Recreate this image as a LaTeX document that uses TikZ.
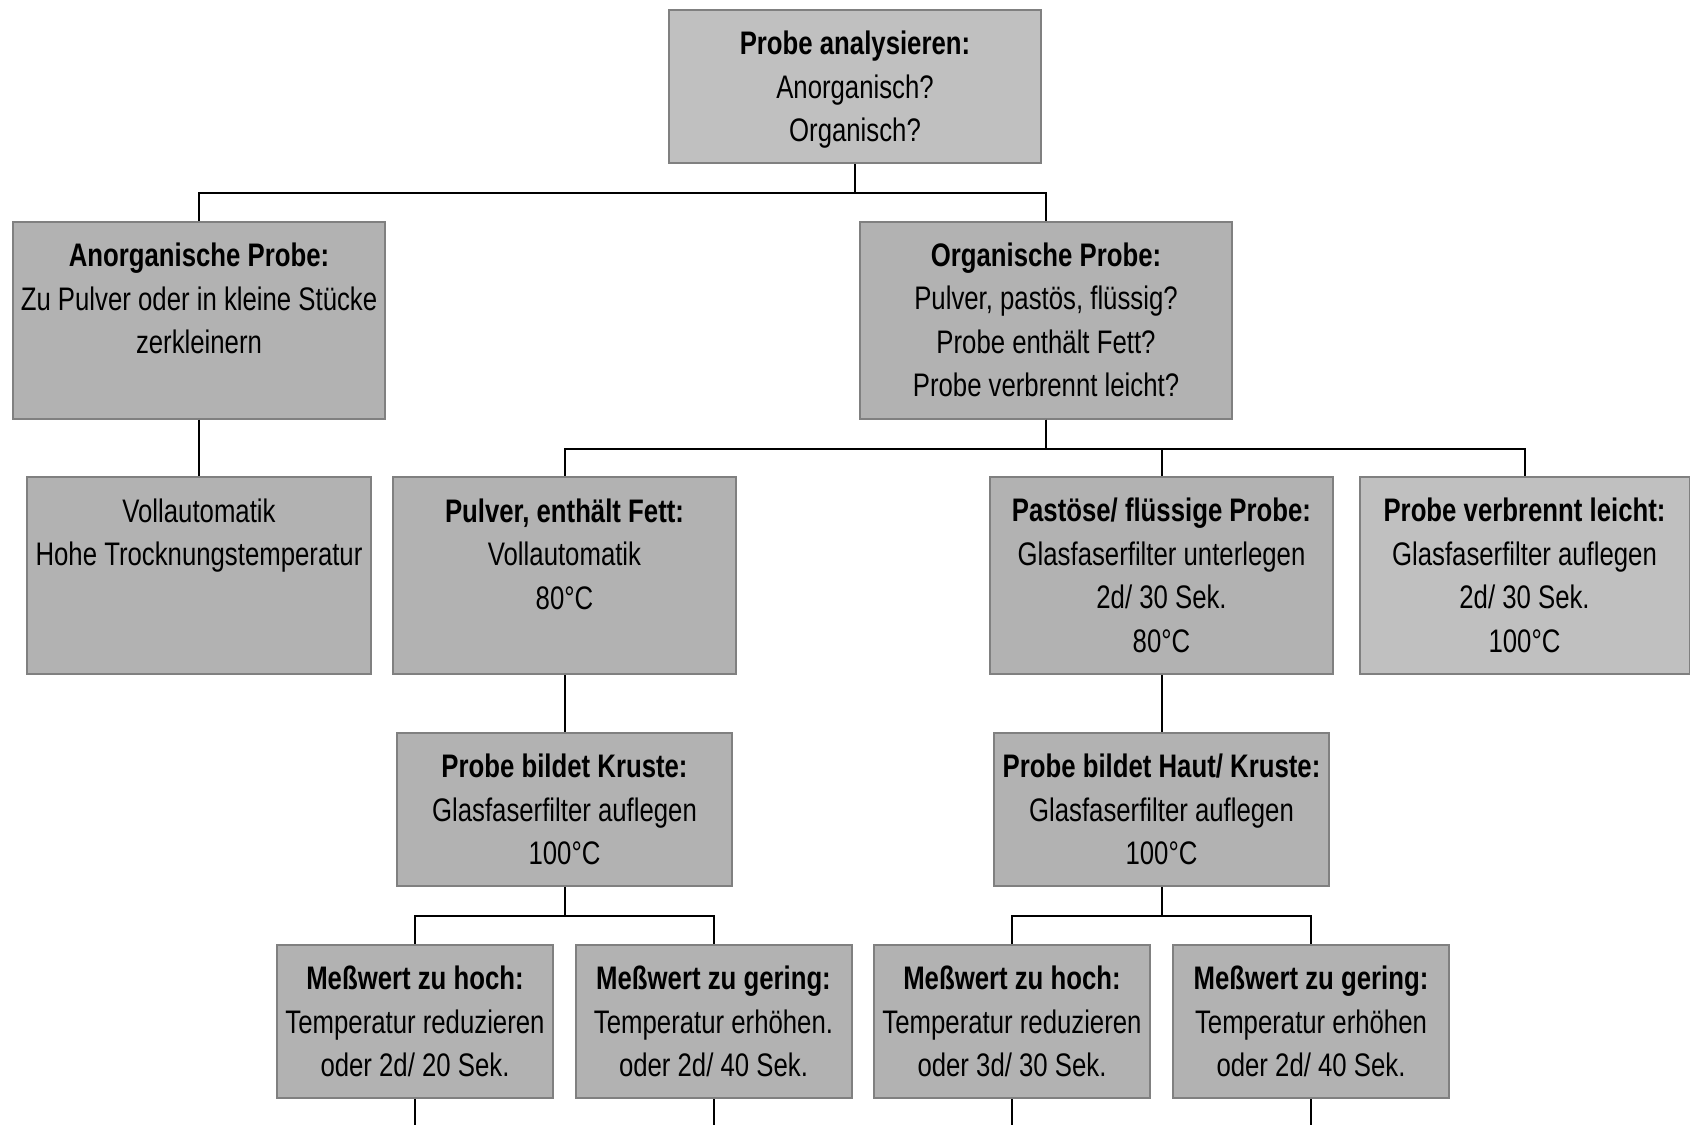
\documentclass[tikz,border=0pt]{standalone}
\usepackage{fontspec}
\setmainfont[FakeStretch=0.79]{Liberation Sans}
\usepackage{tikz}

\definecolor{boxfill}{HTML}{B2B2B2}
\definecolor{lightfill}{HTML}{C0C0C0}
\definecolor{boxline}{HTML}{808080}

\tikzset{
	probebox/.style={shape=rectangle, draw=boxline, line width=1pt, fill=boxfill, align=center, inner sep=0pt, font=\fontsize{16.3}{21.75}\selectfont},
	lowbox/.style={probebox, minimum height=76.5pt},
	highbox/.style={probebox, minimum height=98.5pt},
	link/.style={draw=black, line width=1pt}
}

\begin{document}
\begin{tikzpicture}[x=0.5pt, y=-0.5pt]
	\useasboundingbox (0,0) rectangle (1690,1124);
	
	\node[lowbox, fill=lightfill, minimum width=186pt] (analyse) at (855,86.5) {\rule{0pt}{15pt}\textbf{Probe analysieren:}\\Anorganisch?\\Organisch?};
	
	\node[highbox, minimum width=186pt] (anorg) at (199,320) {\textbf{Anorganische Probe:}\\Zu Pulver oder in kleine Stücke\\zerkleinern\\~};
	\node[highbox, minimum width=186pt] (org) at (1046,320) {\textbf{Organische Probe:}\\Pulver, pastös, flüssig?\\Probe enthält Fett?\\Probe verbrennt leicht?};
	
	\node[highbox, minimum width=172pt] (voll) at (199,575.5) {Vollautomatik\\Hohe Trocknungstemperatur\\~\\~};
	\node[highbox, minimum width=171.5pt] (pulver) at (564.5,575.5) {\textbf{Pulver, enthält Fett:}\\Vollautomatik\\80°C\\~};
	\node[highbox, minimum width=171.5pt] (pastoes) at (1161.5,575.5) {\textbf{Pastöse/ flüssige Probe:}\\Glasfaserfilter unterlegen\\2d/ 30 Sek.\\80°C};
	\node[highbox, fill=lightfill, minimum width=165pt] (verbrennt) at (1524.5,575.5) {\textbf{Probe verbrennt leicht:}\\Glasfaserfilter auflegen\\2d/ 30 Sek.\\100°C};
	
	\node[lowbox, minimum width=167.5pt] (kruste) at (564.5,809.5) {\textbf{Probe bildet Kruste:}\\Glasfaserfilter auflegen\\100°C};
	\node[lowbox, minimum width=167.5pt] (haut) at (1161.5,809.5) {\textbf{Probe bildet Haut/ Kruste:}\\Glasfaserfilter auflegen\\100°C};
	
	\node[lowbox, minimum width=138pt] (hochA) at (415,1021.5) {\textbf{Meßwert zu hoch:}\\Temperatur reduzieren\\oder 2d/ 20 Sek.};
	\node[lowbox, minimum width=138pt] (geringA) at (713.5,1021.5) {\textbf{Meßwert zu gering:}\\Temperatur erhöhen.\\oder 2d/ 40 Sek.};
	\node[lowbox, minimum width=138pt] (hochB) at (1012,1021.5) {\textbf{Meßwert zu hoch:}\\Temperatur reduzieren\\oder 3d/ 30 Sek.};
	\node[lowbox, minimum width=138pt] (geringB) at (1311,1021.5) {\textbf{Meßwert zu gering:}\\Temperatur erhöhen\\oder 2d/ 40 Sek.};
	
	\draw[link] (analyse.south) -- ++(0,29) -| (anorg.north);
	\draw[link] (analyse.south) -- ++(0,29) -| (org.north);
	\draw[link] (anorg) -- (voll);
	
	\draw[link] (org.south) -- ++(0,29) -| (pulver.north);
	\draw[link] (org.south) -- ++(0,29) -| (pastoes.north);
	\draw[link] (org.south) -- ++(0,29) -| (verbrennt.north);
	
	\draw[link] (pulver) -- (kruste);
	\draw[link] (pastoes) -- (haut);
	
	\draw[link] (kruste.south) -- ++(0,29) -| (hochA.north);
	\draw[link] (kruste.south) -- ++(0,29) -| (geringA.north);
	\draw[link] (haut.south) -- ++(0,29) -| (hochB.north);
	\draw[link] (haut.south) -- ++(0,29) -| (geringB.north);
	
	\draw[link] (hochA.south) -- ++(0,30);
	\draw[link] (geringA.south) -- ++(0,30);
	\draw[link] (hochB.south) -- ++(0,30);
	\draw[link] (geringB.south) -- ++(0,30);
	
\end{tikzpicture}
\end{document}
